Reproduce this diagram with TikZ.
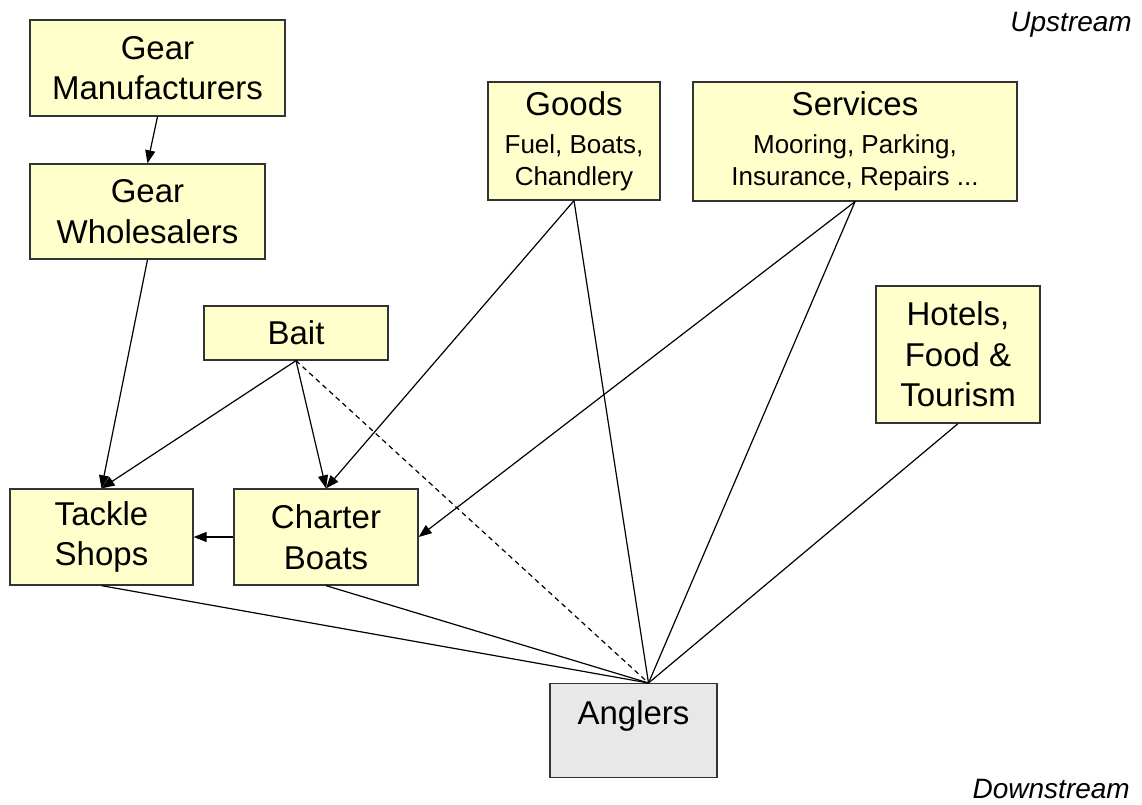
\documentclass[tikz,border=0pt]{standalone}
\usepackage{fontspec}
\setmainfont{Liberation Sans}
\usetikzlibrary{arrows.meta,calc}
\definecolor{boxyellow}{HTML}{FFFFCC}
\definecolor{boxgray}{HTML}{E8E8E8}
\definecolor{edgegray}{HTML}{333333}
\newcommand{\bigf}{\fontsize{33}{40.5}\selectfont}
\newcommand{\smallf}{\fontsize{26}{32}\selectfont}
\tikzset{
  box/.style={draw=edgegray, line width=1.3pt, fill=boxyellow, align=center,
    inner sep=0pt, font=\bigf},
  graybox/.style={box, fill=boxgray},
  conn/.style={line width=1.2pt, draw=black},
  arr/.style={conn, -{Triangle[length=13pt,width=10pt]}},
  dashconn/.style={conn, dash pattern=on 5pt off 4pt},
  tag/.style={font=\fontsize{28}{32}\selectfont\itshape, anchor=east, inner sep=0pt}
}
\begin{document}
\begin{tikzpicture}[x=1pt,y=1pt]
\useasboundingbox (0,0) rectangle (1142,804);
\node[box, minimum width=255pt, minimum height=96pt] (gm) at (157.5,736) {Gear\\Manufacturers};
\node[box, minimum width=235pt, minimum height=95pt] (gw) at (147.5,592.5) {Gear\\Wholesalers};
\node[box, minimum width=172pt, minimum height=118pt] (goods) at (574,663)
  {Goods\\[-2.5pt]{\smallf Fuel, Boats,}\\[-8.5pt]{\smallf Chandlery}};
\node[box, minimum width=324pt, minimum height=119pt] (serv) at (855,662.5)
  {Services\\[-2.5pt]{\smallf Mooring, Parking,}\\[-8.5pt]{\smallf Insurance, Repairs ...}};
\node[box, minimum width=184pt, minimum height=54pt] (bait) at (296,471) {Bait};
\node[box, minimum width=164pt, minimum height=137pt] (hotel) at (958,449.5) {Hotels,\\Food \&\\Tourism};
\node[box, minimum width=183pt, minimum height=96pt] (tackle) at (101.5,267) {Tackle\\Shops};
\node[box, minimum width=184pt, minimum height=96pt] (charter) at (326,267) {Charter\\Boats};
\node[graybox, minimum width=167pt, text height=41pt, text depth=53pt, anchor=north] (ang) at (633.5,121) {Anglers};
\coordinate (ap) at ($(ang.north)+(15,0)$);

\node[tag] (up) at (1132,779) {Upstream};
\node[tag] (down) at (1130,15) {Downstream};

\draw[arr] (gm.south) -- (gw.north);
\draw[arr] (gw.south) -- (tackle.north);
\draw[arr] (bait.south) -- (tackle.north);
\draw[arr] (bait.south) -- (charter.north);
\draw[arr] (goods.south) -- (charter.north);
\draw[arr] (serv.south) -- (charter.east);
\draw[arr] (charter.west) -- (tackle.east);
\draw[dashconn] (bait.south) -- (ap);
\draw[conn] (goods.south) -- (ap);
\draw[conn] (serv.south) -- (ap);
\draw[conn] (hotel.south) -- (ap);
\draw[conn] (tackle.south) -- (ap);
\draw[conn] (charter.south) -- (ap);
\end{tikzpicture}
\end{document}
